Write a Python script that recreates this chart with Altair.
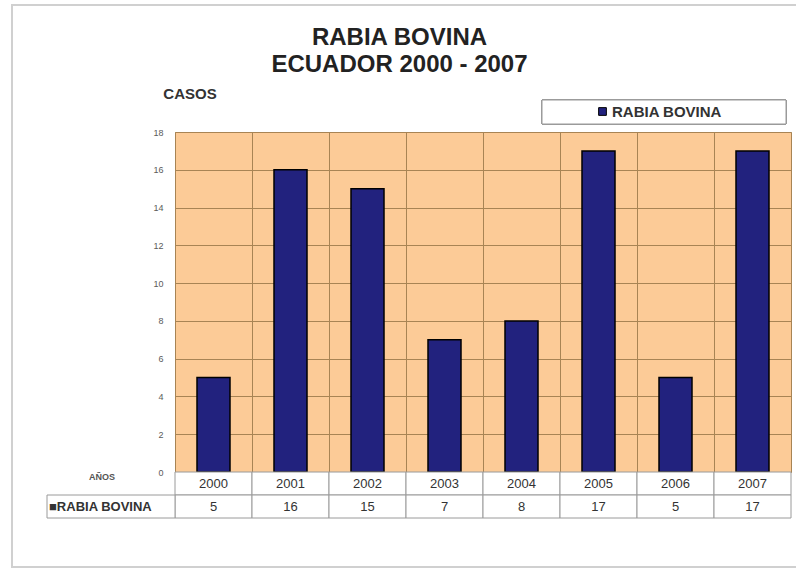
import altair as alt
import pandas as pd

# Rabia bovina cases in Ecuador by year
years = ["2000", "2001", "2002", "2003", "2004", "2005", "2006", "2007"]
casos = [5, 16, 15, 7, 8, 17, 5, 17]
serie = "RABIA BOVINA"
titulo = "RABIA BOVINA\nECUADOR 2000 - 2007"
y_ticks = [0, 2, 4, 6, 8, 10, 12, 14, 16, 18]

df = pd.DataFrame({"anio": years, "casos": casos, "serie": [serie] * len(years)})

GRID = "#a88454"
BAR = "#22227e"
FONT = "Liberation Sans"

x_enc = alt.X(
    "anio:N",
    sort=years,
    scale=alt.Scale(paddingInner=0, paddingOuter=0),
    axis=alt.Axis(
        grid=True, bandPosition=0, gridColor=GRID, gridWidth=1,
        labels=False, ticks=False, domain=False, title=None,
    ),
)

base = alt.Chart(df)

bars = base.mark_bar(width=33, stroke="#000000", strokeWidth=1.5).encode(
    x=x_enc,
    y=alt.Y(
        "casos:Q",
        scale=alt.Scale(domain=[0, 18], nice=False),
        axis=alt.Axis(
            values=y_ticks, grid=True, gridColor=GRID, gridWidth=1,
            domain=False, ticks=False, labelFontSize=9, labelColor="#5a5a5a",
            labelPadding=12, title=None, labelFont=FONT,
        ),
    ),
    color=alt.Color(
        "serie:N",
        scale=alt.Scale(range=[BAR]),
        legend=alt.Legend(
            title=None, orient="none", legendX=420, legendY=-28,
            symbolType="square", symbolSize=60, symbolStrokeColor="#000000",
            symbolStrokeWidth=1, labelFontSize=15, labelFontWeight="bold",
            labelColor="#333333", labelFont=FONT, labelOffset=2, padding=0,
        ),
    ),
)

# outer frame of the whole chart
frame = base.mark_rect(fill="transparent", stroke="#d0d0d0", strokeWidth=2).encode(
    x=alt.value(-163), x2=alt.value(700), y=alt.value(-127), y2=alt.value(435)
)

# two-line chart title
title_txt = alt.Chart(pd.DataFrame({"t": [titulo]})).mark_text(
    fontSize=24, fontWeight="bold", font=FONT, color="#222222",
    lineBreak="\n", lineHeight=26.5, baseline="middle",
).encode(text="t:N", x=alt.value(224.5), y=alt.value(-94))

# legend box
legend_box = base.mark_rect(fill="#ffffff", stroke="#9a9a9a", strokeWidth=1).encode(
    x=alt.value(367), x2=alt.value(611), y=alt.value(-32), y2=alt.value(-8)
)

# "CASOS" axis caption
casos_lbl = alt.Chart(pd.DataFrame({"t": ["CASOS"]})).mark_text(
    fontSize=15, fontWeight="bold", font=FONT, color="#333333"
).encode(text="t:N", x=alt.value(15), y=alt.value(-38))

# data table under the bars
cell_years = base.mark_rect(fill="#ffffff", stroke="#9a9a9a", strokeWidth=1).encode(
    x=alt.X("anio:N", sort=years), y=alt.value(340), y2=alt.value(363)
)
cell_vals = base.mark_rect(fill="#ffffff", stroke="#9a9a9a", strokeWidth=1).encode(
    x=alt.X("anio:N", sort=years), y=alt.value(363), y2=alt.value(386)
)
txt_years = base.mark_text(fontSize=13, font=FONT, color="#333333").encode(
    x=alt.X("anio:N", sort=years), y=alt.value(352), text="anio:N"
)
txt_vals = base.mark_text(fontSize=13, font=FONT, color="#333333").encode(
    x=alt.X("anio:N", sort=years), y=alt.value(375), text="casos:Q"
)

label_df = pd.DataFrame({"t": ["\u25a0" + serie]})
label_cell = alt.Chart(label_df).mark_rect(fill="#ffffff", stroke="#9a9a9a", strokeWidth=1).encode(
    x=alt.value(-128), x2=alt.value(0), y=alt.value(363), y2=alt.value(386)
)
label_txt = alt.Chart(label_df).mark_text(
    fontSize=13, fontWeight="bold", font=FONT, color="#333333", align="left"
).encode(text="t:N", x=alt.value(-126), y=alt.value(375))

anios_txt = alt.Chart(pd.DataFrame({"t": ["AÑOS"]})).mark_text(
    fontSize=9, fontWeight="bold", font=FONT, color="#555555"
).encode(text="t:N", x=alt.value(-73), y=alt.value(345))

chart = (
    alt.layer(
        frame, title_txt, legend_box, bars, cell_years, cell_vals, txt_years,
        txt_vals, label_cell, label_txt, anios_txt, casos_lbl,
    )
    .properties(
        width=616,
        height=340,
        padding={"left": 175, "top": 132, "right": 5, "bottom": 97},
        autosize=alt.AutoSizeParams(type="none"),
        background="#ffffff",
    )
    .configure_view(fill="#fccb97", stroke=GRID, strokeWidth=1)
)

chart.save("out.html", embed_options={"renderer": "svg", "actions": False})
